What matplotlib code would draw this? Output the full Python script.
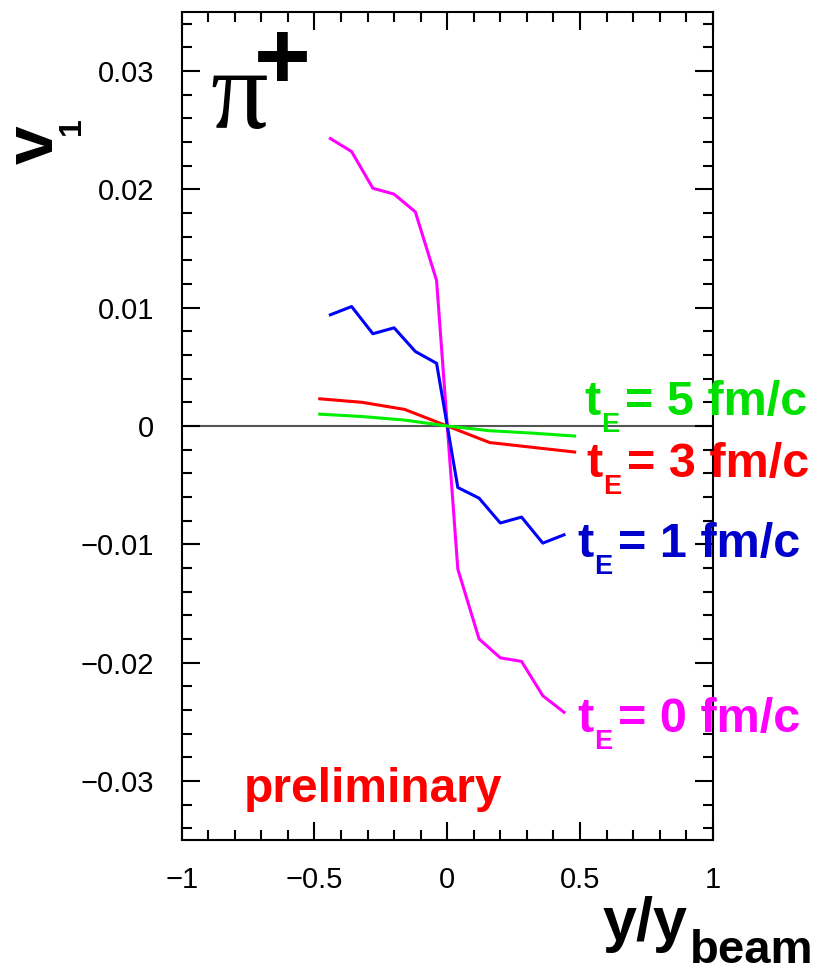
"""Directed flow v1 of positive pions vs normalized rapidity for several expansion times"""

import matplotlib
matplotlib.use("Agg")
import matplotlib.pyplot as plt
from matplotlib.ticker import MultipleLocator
from matplotlib.transforms import offset_copy

plt.rcParams["font.family"] = ["Liberation Sans", "DejaVu Sans"]

# rapidity bins (y/y_beam)
y_fine = [-0.44, -0.36, -0.28, -0.20, -0.12, -0.04, 0.04, 0.12, 0.20, 0.28, 0.36, 0.44]
y_coarse = [-0.48, -0.32, -0.16, 0.0, 0.16, 0.32, 0.48]

# v1 for each expansion time t_E
v1_t0 = [0.0243, 0.0232, 0.0201, 0.0196, 0.0181, 0.0123,
         -0.0121, -0.0180, -0.0196, -0.0199, -0.0228, -0.0242]
v1_t1 = [0.0094, 0.0101, 0.0078, 0.0083, 0.0063, 0.0053,
         -0.0052, -0.0061, -0.0082, -0.0077, -0.0099, -0.0092]
v1_t3 = [0.0023, 0.0020, 0.0014, 0.0, -0.0014, -0.0018, -0.0022]
v1_t5 = [0.0010, 0.0008, 0.0005, 0.0, -0.0004, -0.0006, -0.00085]

W, H = 818, 971
fig = plt.figure(figsize=(W / 100, H / 100), dpi=100)
ax = fig.add_axes([181.7 / W, 1 - 840 / H, 531 / W, 828 / H])


def px(x, y):
    """pixel position (from top-left) -> figure fraction"""
    return x / W, 1 - y / H


ax.axhline(0, color="#555555", linewidth=1.5, zorder=1)
ax.plot(y_fine, v1_t0, color="#ff00ff", linewidth=2.2)
ax.plot(y_fine, v1_t1, color="#0000ff", linewidth=2.2)
ax.plot(y_coarse, v1_t3, color="#ff0000", linewidth=2.2)
ax.plot(y_coarse, v1_t5, color="#00ee00", linewidth=2.2)

ax.set_xlim(-1, 1)
ax.set_ylim(-0.035, 0.035)
ax.xaxis.set_major_locator(MultipleLocator(0.5))
ax.xaxis.set_minor_locator(MultipleLocator(0.1))
ax.yaxis.set_major_locator(MultipleLocator(0.01))
ax.yaxis.set_minor_locator(MultipleLocator(0.002))
fmt = lambda v, p: "0" if abs(v) < 1e-9 else f"{v:g}".replace("-", "\u2212")
ax.xaxis.set_major_formatter(plt.FuncFormatter(fmt))
ax.yaxis.set_major_formatter(plt.FuncFormatter(fmt))
ax.tick_params(which="both", direction="in", top=True, right=True, width=1.5, labelsize=21)
ax.tick_params(which="major", length=13)
ax.tick_params(which="minor", length=7)
ax.tick_params(axis="y", pad=20)
ax.tick_params(axis="x", pad=19)
for s in ax.spines.values():
    s.set_linewidth(1.5)

# curve labels: "t" + subscript "E" + "= N fm/c", anchored at the "t"
labels = [
    (584, 415, "5", "#00e000"),
    (586, 477, "3", "#ff0000"),
    (577, 557, "1", "#0000cc"),
    (577, 732, "0", "#ff00ff"),
]
for x, y, t, c in labels:
    fx, fy = px(x, y)
    kw = dict(color=c, fontweight="bold", va="baseline", ha="left")
    fig.text(fx, fy, "t", fontsize=35, **kw)
    fig.text(fx, fy, "E", fontsize=19.5,
             transform=offset_copy(fig.transFigure, fig=fig, x=17, y=-17, units="dots"), **kw)
    fig.text(fx, fy, "= " + t + " fm/c", fontsize=35,
             transform=offset_copy(fig.transFigure, fig=fig, x=41, y=0, units="dots"), **kw)

ax.text(-0.767, -0.0318, "preliminary", color="#ff0000", fontsize=34.5,
        fontweight="bold", va="baseline", ha="left")

# particle species
ax.text(-0.892, 0.0252, "\u03c0", family="Liberation Serif", fontsize=82,
        va="baseline", ha="left")
fig.text(*px(254, 89), "+", fontsize=70, fontweight="bold", va="baseline", ha="left")

# axis titles
fig.text(*px(603, 940), "y/y", fontsize=44, fontweight="bold", va="baseline", ha="left")
fig.text(*px(690, 963), "beam", fontsize=34, fontweight="bold", va="baseline", ha="left")
fig.text(*px(53, 164), "v", fontsize=50, fontweight="bold", rotation=90,
         rotation_mode="anchor", va="baseline", ha="left")
fig.text(*px(80, 135), "1", fontsize=23, fontweight="bold", rotation=90,
         rotation_mode="anchor", va="baseline", ha="left")

fig.savefig("out.png", dpi=100)
